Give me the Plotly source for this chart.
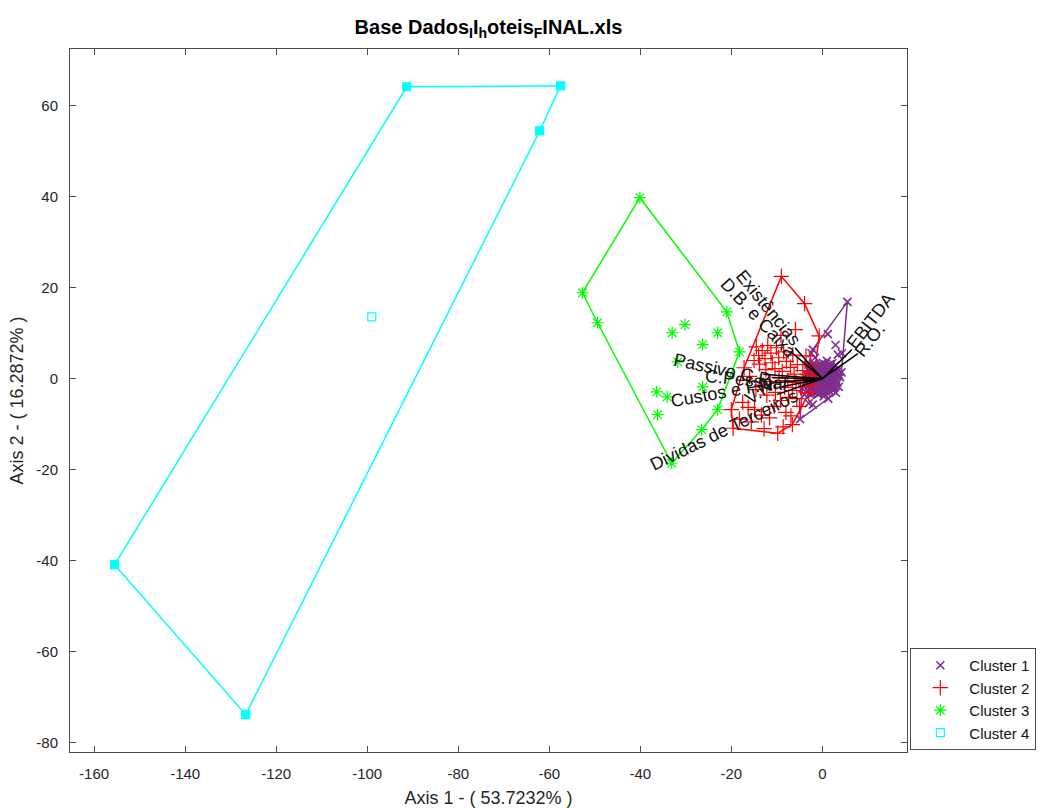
import plotly.graph_objects as go

# ---------------- data ----------------
c1_pts = [(5.5,16.9),(4.3,5.6),(-4.9,-8.9),(-2.4,5.6),(2.1,-1.2),(-4.4,-2.2),
          (0.0,0.0),(0.5,0.3),(-0.4,0.6),(1.1,-0.2),(-0.8,-0.5),(0.3,-0.9),(1.6,0.8),(-1.3,1.1),(0.9,1.4),(-0.2,-1.5),
          (2.2,0.4),(-1.9,-0.3),(1.4,-1.3),(-1.1,-1.6),(0.6,2.0),(-0.6,1.9),(2.6,1.5),(-2.3,0.9),(1.9,-2.1),(-1.6,-2.3),
          (0.2,2.6),(-0.3,-2.7),(2.9,-0.6),(-2.7,-1.1),(3.1,0.9),(-2.9,1.8),(1.2,2.8),(-1.0,2.9),(0.8,-2.9),(-2.1,-2.8),
          (3.4,2.2),(-3.2,0.2),(2.4,-2.6),(-0.9,-3.4),(1.7,3.2),(-1.8,3.3),(0.1,3.5),(3.6,-1.8),(-3.3,-2.5),(2.8,2.9),
          (0.4,-0.2),(-0.5,-0.1),(0.7,0.9),(-0.9,0.2),(1.3,0.4),(-0.3,1.1),(0.2,-0.6),(1.0,-0.8),(-1.4,-0.9),(-0.1,0.4),
          (1.8,1.9),(-1.5,0.5),(2.4,-0.9),(0.5,1.7),(-0.7,-1.0),(1.5,-0.5),(-2.0,1.6),(0.9,-1.8),(-1.2,-2.9),(2.0,2.4),
          (3.9,0.3),(-3.6,-0.6),(1.0,3.9),(-2.6,-3.6),(4.2,1.4),(-3.1,3.1),(0.3,-3.9),(3.0,-3.1),
          (2.9,7.4),(1.2,9.8),(-1.6,4.6),(-3.0,-5.4),(-2.1,-5.7),(1.3,-4.4),(-3.9,-3.5),(3.4,5.3),(-2.8,-1.0),(-2.1,6.4),
          (0.2,0.1),(-0.2,-0.3),(0.6,-0.5),(-0.6,0.3),(0.4,0.7),(-0.4,-0.8),(0.9,0.2),(-1.0,-0.2),(0.1,1.0),(0.0,-1.1),
          (1.2,1.0),(-1.2,0.8),(1.1,-1.1),(-0.9,-1.2),(1.7,0.1),(-1.7,0.0),(0.3,1.6),(-0.1,-1.8),(1.9,1.2),(-1.8,1.3),
          (1.6,-1.6),(-1.5,-1.7),(2.3,-0.2),(-2.2,-0.6),(0.8,2.3),(-0.8,2.4),(0.6,-2.4),(-0.5,-2.2),(2.5,0.9),(-2.5,0.3),
          (2.1,-1.5),(-2.3,-1.8),(1.4,2.1),(-1.4,2.0),(1.2,-2.4),(-1.4,-2.6),(2.8,0.1),(-2.8,-0.2),(0.0,2.9),(0.1,-3.0),
          (2.7,1.9),(-2.6,1.4),(2.6,-1.9),(-2.5,-2.3),(1.8,2.7),(-1.6,2.7),(1.7,-2.8),(-1.8,-3.1),(3.3,-0.9),(-3.0,-1.6),
          (3.2,1.5),(-3.4,0.9),(0.5,3.2),(-0.6,3.1),(0.4,-3.3),(-0.5,-3.1),(3.7,0.8),(-3.0,2.4),(2.2,3.4),(-2.3,-3.3),
          (0.7,0.0),(-0.7,-0.3),(0.3,-0.4),(-0.3,0.2),(1.0,0.6),(-1.1,0.5),(0.8,-1.3),(-0.8,-1.5),(1.5,1.5),(-1.5,1.6)]
c2_pts = [(-9.0,22.5),(-3.9,16.5),(-0.7,9.4),(-5.0,-6.1),(-6.6,-10.1),(-9.8,-12.0),(-19.6,-10.9),(-20.0,-6.8),
          (-14.5,7.0),(-13.2,6.2),(-12.0,7.3),(-14.0,5.1),(-12.6,4.4),(-11.3,5.6),(-10.1,6.8),(-13.8,3.2),(-15.0,4.0),
          (-11.0,3.5),(-9.6,4.6),(-8.5,5.9),(-7.9,3.8),(-10.4,2.2),(-12.4,2.0),(-8.8,1.6),(-7.0,2.5),(-6.2,1.0),
          (-5.5,3.1),(-4.3,1.8),(-9.5,0.3),(-7.6,-0.4),(-5.8,-0.8),(-4.0,-0.2),(-3.2,0.9),(-11.5,-0.6),(-13.0,-1.4),
          (-8.3,-1.9),(-6.6,-2.6),(-4.8,-2.0),(-10.3,-3.0),(-12.2,-3.6),(-14.6,-2.4),(-7.4,-4.1),(-9.2,-4.8),
          (-5.6,-4.4),(-16.3,-6.3),(-14.9,-6.8),(-17.5,-5.2),(-11.6,-8.6),(-13.4,-8.0),(-8.0,-7.4),(-10.6,-6.1),
          (-18.2,-8.9),(-6.9,-8.2),(-3.0,-3.2),(-2.5,2.8),(-6.5,5.2),(-9.1,9.5),(-5.9,10.8),(-16.0,0.5),(-17.2,2.4),
          (-3.6,5.0),(-2.2,-1.5),(-1.8,0.6),(-15.6,-9.5),(-12.8,-11.0),(-8.6,-10.6)]
c3_pts = [(-40.1,39.8),(-52.7,18.9),(-49.4,12.3),(-33.1,-18.6),(-26.5,-11.2),(-23.0,-6.8),(-18.2,5.9),(-21.0,14.7),
          (-30.2,11.9),(-33.0,10.1),(-23.0,10.1),(-26.3,7.5),(-31.8,3.7),(-26.3,-1.8),(-36.4,-2.9),(-34.1,-4.0),(-36.2,-7.9)]
c4_pts = [(-155.5,-40.9),(-126.7,-73.9),(-91.3,64.2),(-57.5,64.4),(-62.1,54.5),(-99.0,13.6)]

var_names = ["Existências","D.B. e Caixa","Passivo C.P.","C.Pessoal","Custos e F.N.","V.N.",
             "Dividas de Terceiros","EBITDA","R.O."]
var_x = [-6.0,-7.0,-13.0,-11.0,-11.5,-9.0,-10.0,6.5,7.8]
var_y = [6.8,6.0,1.0,0.2,-1.0,-1.8,-3.5,6.4,5.5]
lab_x = [-11.8,-14.0,-21.7,-16.8,-21.7,-13.6,-21.5,10.6,10.4]
lab_y = [15.6,13.4,2.0,-0.2,-2.9,-2.7,-11.2,12.7,8.6]
lab_ang = [51,47,12,6,-10,-35,-26,-52,-52]

cluster_names = ["Cluster 1","Cluster 2","Cluster 3","Cluster 4"]
cluster_colors = ["#7E2F8E","#FF0000","#00FF00","#00FFFF"]
cluster_symbols = ["x-thin-open","cross-thin-open","asterisk-open","square-open"]
cluster_sizes = [8,11,10,8]
cluster_lw = [1.6,1.2,1.2,1.2]

x_ticks = [-160,-140,-120,-100,-80,-60,-40,-20,0]
y_ticks = [-80,-60,-40,-20,0,20,40,60]

FONT = "Liberation Sans, Arial"


def hull(points):
    pts = sorted(set(points))
    def cross(o, a, b):
        return (a[0]-o[0])*(b[1]-o[1]) - (a[1]-o[1])*(b[0]-o[0])
    lower, upper = [], []
    for p in pts:
        while len(lower) >= 2 and cross(lower[-2], lower[-1], p) <= 0:
            lower.pop()
        lower.append(p)
    for p in reversed(pts):
        while len(upper) >= 2 and cross(upper[-2], upper[-1], p) <= 0:
            upper.pop()
        upper.append(p)
    h = lower[:-1] + upper[:-1]
    return h + [h[0]]


fig = go.Figure()
all_pts = [c1_pts, c2_pts, c3_pts, c4_pts]

# hull outlines
for i, pts in enumerate(all_pts):
    h = hull(pts)
    if i == 3:
        fig.add_trace(go.Scatter(x=[p[0] for p in h], y=[p[1] for p in h], mode="lines+markers",
                                 line=dict(color=cluster_colors[i], width=1.5),
                                 marker=dict(symbol="square", size=8, color=cluster_colors[i]),
                                 showlegend=False, hoverinfo="skip"))
    else:
        fig.add_trace(go.Scatter(x=[p[0] for p in h], y=[p[1] for p in h], mode="lines",
                                 line=dict(color=cluster_colors[i], width=1.5),
                                 showlegend=False, hoverinfo="skip"))

# points
for i, pts in enumerate(all_pts):
    fig.add_trace(go.Scatter(x=[p[0] for p in pts], y=[p[1] for p in pts], mode="markers",
                             name=cluster_names[i],
                             marker=dict(symbol=cluster_symbols[i], size=cluster_sizes[i],
                                         color=cluster_colors[i],
                                         line=dict(color=cluster_colors[i], width=cluster_lw[i]))))

# biplot vectors
vx, vy = [], []
for a, b in zip(var_x, var_y):
    vx += [0, a, None]
    vy += [0, b, None]
fig.add_trace(go.Scatter(x=vx, y=vy, mode="lines", line=dict(color="black", width=1.5),
                         showlegend=False, hoverinfo="skip"))

for n, x, y, a in zip(var_names, lab_x, lab_y, lab_ang):
    fig.add_annotation(x=x, y=y, xref="x", yref="y", text=n, showarrow=False, textangle=a,
                       font=dict(family=FONT, size=18, color="#111111"))

axis_common = dict(showgrid=False, zeroline=False, showline=True, linecolor="#4d4d4d", linewidth=1,
                   mirror="ticks", ticks="inside", ticklen=6, tickcolor="#4d4d4d",
                   tickfont=dict(family=FONT, size=15, color="#262626"))

fig.update_layout(
    width=1040, height=808,
    margin=dict(l=70, r=133, t=49, b=56, autoexpand=False),
    plot_bgcolor="white", paper_bgcolor="white",
    title=dict(text="<b>Base Dados<sub>I</sub>I<sub>h</sub>oteis<sub>F</sub>INAL.xls</b>",
               x=0.5, xref="paper", xanchor="center", y=1 - 27/808, yanchor="middle",
               font=dict(family=FONT, size=20, color="#000000")),
    xaxis=dict(range=[-165.3, 18.6], tickvals=x_ticks, ticktext=[str(v) for v in x_ticks],
               ticklabelstandoff=8,
               title=dict(text="Axis 1 - ( 53.7232% )", standoff=10,
                          font=dict(family=FONT, size=18, color="#262626")),
               **axis_common),
    yaxis=dict(range=[-82.1, 72.5], tickvals=y_ticks, ticktext=[str(v) for v in y_ticks],
               ticklabelstandoff=8,
               title=dict(text="Axis 2 - ( 16.2872% )", standoff=8,
                          font=dict(family=FONT, size=18, color="#262626")),
               **axis_common),
    legend=dict(x=1.004, xanchor="left", y=0.148, yanchor="top",
                bgcolor="white", bordercolor="#4d4d4d", borderwidth=1,
                font=dict(family=FONT, size=15, color="#111111"),
                itemwidth=48, tracegroupgap=0),
    showlegend=True,
)

fig.write_html("out.html")
